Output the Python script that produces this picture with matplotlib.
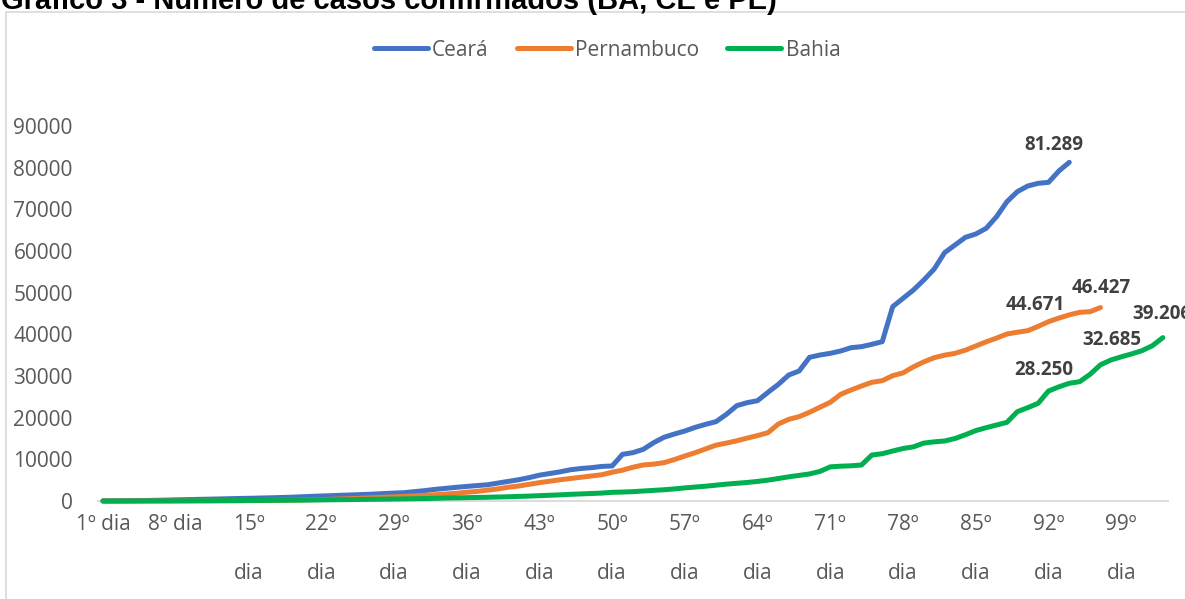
import matplotlib
matplotlib.use("Agg")
import matplotlib.pyplot as plt
from matplotlib.patches import Rectangle

# Confirmed cases per day since the first case in each state
ceara = [
    10, 20, 40, 68, 110, 160, 210, 280, 330, 380,
    430, 480, 540, 600, 650, 700, 760, 830, 900, 1000,
    1100, 1200, 1280, 1380, 1460, 1550, 1650, 1780, 1900, 2000,
    2250, 2500, 2800, 3040, 3280, 3500, 3700, 3900, 4300, 4700,
    5100, 5600, 6200, 6600, 7000, 7500, 7800, 8000, 8300, 8400,
    11200, 11600, 12400, 14000, 15300, 16080, 16800, 17680, 18400, 19040,
    20800, 22880, 23600, 24080, 26080, 28000, 30240, 31200, 34480, 35040,
    35440, 36000, 36800, 37040, 37600, 38240, 46640, 48640, 50640, 53040,
    55680, 59600, 61440, 63280, 64080, 65440, 68240, 71840, 74240, 75600,
    76240, 76480, 79200, 81289,
]
pernambuco = [
    2, 2, 2, 4, 7, 13, 16, 19, 28, 40,
    45, 50, 58, 70, 100, 120, 150, 180, 210, 250,
    300, 350, 420, 500, 580, 680, 800, 900, 1000, 1100,
    1230, 1370, 1500, 1680, 1850, 2100, 2300, 2600, 2900, 3300,
    3600, 4000, 4400, 4750, 5100, 5400, 5700, 6000, 6300, 6900,
    7400, 8100, 8650, 8850, 9200, 9950, 10800, 11600, 12500, 13400,
    13900, 14450, 15100, 15700, 16400, 18480, 19600, 20240, 21300, 22500,
    23700, 25600, 26640, 27600, 28480, 28880, 30080, 30750, 32200, 33400,
    34400, 35000, 35440, 36200, 37200, 38200, 39100, 40080, 40500, 40880,
    41900, 43040, 43900, 44671, 45280, 45440, 46427,
]
bahia = [
    2, 2, 2, 4, 8, 10, 20, 30, 40, 55,
    62, 76, 90, 104, 120, 140, 160, 176, 200, 214,
    240, 260, 290, 320, 350, 380, 410, 440, 480, 510,
    550, 590, 640, 720, 760, 800, 850, 900, 960, 1020,
    1100, 1180, 1280, 1380, 1480, 1600, 1700, 1800, 1900, 2080,
    2150, 2240, 2400, 2550, 2700, 2900, 3150, 3350, 3550, 3800,
    4050, 4250, 4450, 4700, 5000, 5400, 5800, 6150, 6500, 7100,
    8200, 8350, 8450, 8640, 11040, 11350, 12000, 12600, 13000, 13900,
    14200, 14400, 15000, 15900, 16900, 17600, 18240, 18880, 21440, 22400,
    23440, 26400, 27400, 28250, 28640, 30400, 32685, 33840, 34600, 35300,
    36080, 37280, 39206,
]

n_days = len(bahia)
tick_days = list(range(1, n_days + 1, 7))
tick_labels = ["1º dia", "8º dia"] + [f"{d}º\ndia" for d in tick_days[2:]]

# (series, day, text offset in pixels) for the value labels
labels = [
    ("ceara", 94, (-15, 17)),
    ("pernambuco", 94, (-34, 10)),
    ("pernambuco", 97, (1, 20)),
    ("bahia", 94, (-26, 13)),
    ("bahia", 97, (11, 25)),
    ("bahia", 103, (-1, 24)),
]

series = {
    "ceara": ("Ceará", ceara, "#4472C4"),
    "pernambuco": ("Pernambuco", pernambuco, "#ED7D31"),
    "bahia": ("Bahia", bahia, "#00B050"),
}

W, H = 1185, 599
fig = plt.figure(figsize=(W / 100, H / 100), dpi=100)
fig.patches.append(Rectangle((6 / W, -0.1), 1.2, 1 - 12 / H + 0.1,
                             transform=fig.transFigure, fill=False,
                             edgecolor="#d9d9d9", linewidth=1.2))

fig.text(1 / W, 1 - 9 / H, "Gráfico 3 - Número de casos confirmados (BA, CE e PE)",
         family="Liberation Sans", fontweight="bold", fontsize=21,
         ha="left", va="baseline", color="black")

left, right, bottom, top = 97.8, 1168, 501, 126
ax = fig.add_axes([left / W, (H - bottom) / H, (right - left) / W, (bottom - top) / H])

grey = "#595959"
for key, (name, values, color) in series.items():
    days = list(range(1, len(values) + 1))
    ax.plot(days, values, color=color, linewidth=3.6, label=name,
            solid_capstyle="round", solid_joinstyle="round", clip_on=False, zorder=3)

for key, day, (dx, dy) in labels:
    values = series[key][1]
    v = values[day - 1]
    txt = f"{v:,}".replace(",", ".")
    ax.annotate(txt, (day, v), xytext=(dx, dy), textcoords="offset pixels",
                ha="center", va="center", fontsize=13.5, fontweight="bold",
                family="Open Sans", color="#404040", annotation_clip=False)

ax.set_xlim(0.5, n_days + 0.5)
ax.set_ylim(0, 90000)
ax.set_yticks(range(0, 90001, 10000))
ax.set_xticks(tick_days)
ax.set_xticklabels(tick_labels, linespacing=2.75)
ax.tick_params(axis="both", length=0, labelcolor=grey, labelsize=15)
ax.tick_params(axis="y", pad=18)
ax.tick_params(axis="x", pad=9.5)
for lab in ax.get_xticklabels() + ax.get_yticklabels():
    lab.set_family("Open Sans")

for side in ["top", "left", "right"]:
    ax.spines[side].set_visible(False)
ax.spines["bottom"].set_color("#d9d9d9")
ax.spines["bottom"].set_linewidth(1.3)

fig.legend(loc="center", bbox_to_anchor=(607 / W, 1 - 50 / H), ncol=3, frameon=False,
           handlelength=2.6, handletextpad=0.2, columnspacing=1.35,
           prop={"family": "Open Sans", "size": 15}, labelcolor=grey)

fig.savefig("out.png", dpi=100)
